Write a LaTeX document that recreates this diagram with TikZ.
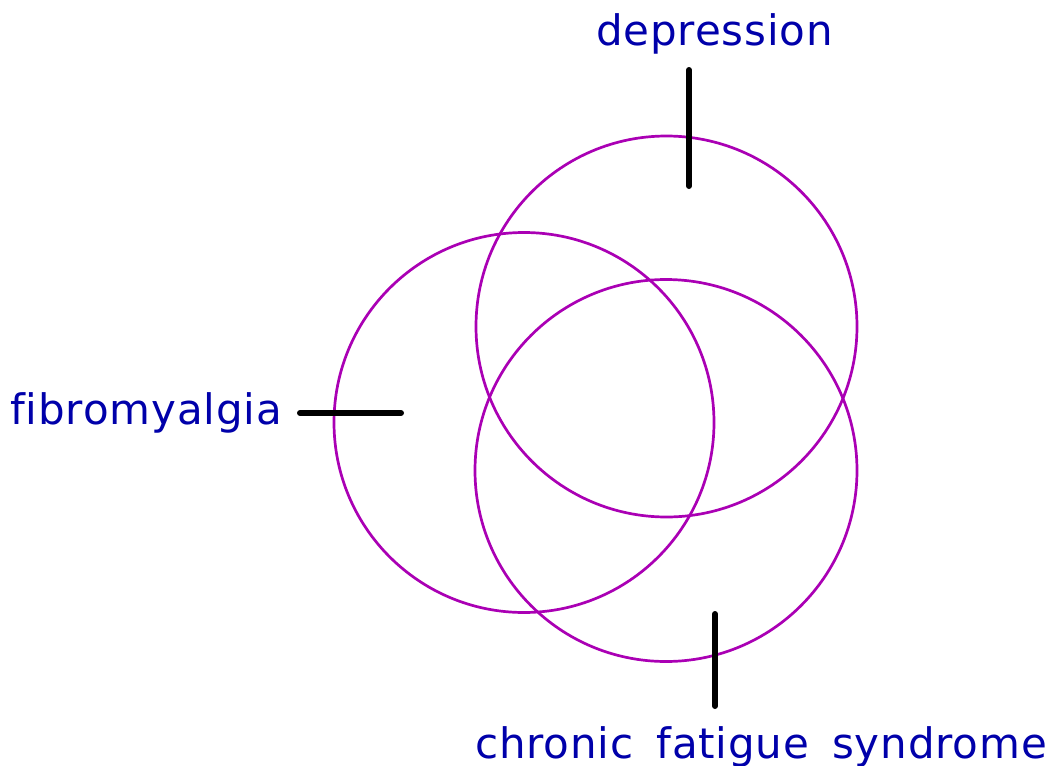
\documentclass[tikz,border=0pt]{standalone}
\usepackage{fontspec}
\setmainfont[Ligatures=NoCommon,LetterSpace=2]{DejaVu Sans}
\definecolor{lblue}{RGB}{0,0,170}
\definecolor{cmag}{RGB}{170,0,180}
\begin{document}
\begin{tikzpicture}[x=1pt,y=-1pt,
  lbl/.style={text=lblue,font=\fontsize{42}{50}\selectfont,inner sep=0pt,anchor=base west},
  ring/.style={draw=cmag,line width=2.7pt},
  tick/.style={draw=black,line width=6pt,line cap=round}]
\useasboundingbox (0,0) rectangle (1053,766);
\draw[ring] (666.5,326.5) circle (190.5);
\draw[ring] (524,422.5) circle (190);
\draw[ring] (666,470.5) circle (191);
\node[lbl] (dep) at (596,45) {depression};
\node[lbl] (fib) at (10,424) {f{}ibromyalgia};
\node[lbl] (cfs) at (475,758) {chronic\hspace{23pt}fatigue\hspace{23pt}syndrome};
\coordinate (d1) at (689,70);
\coordinate (d2) at (689,186);
\coordinate (f1) at (300,413);
\coordinate (f2) at (401,413);
\coordinate (c1) at (715,614);
\coordinate (c2) at (715,706);
\draw[tick] (d1) -- (d2);
\draw[tick] (f1) -- (f2);
\draw[tick] (c1) -- (c2);
\end{tikzpicture}
\end{document}
